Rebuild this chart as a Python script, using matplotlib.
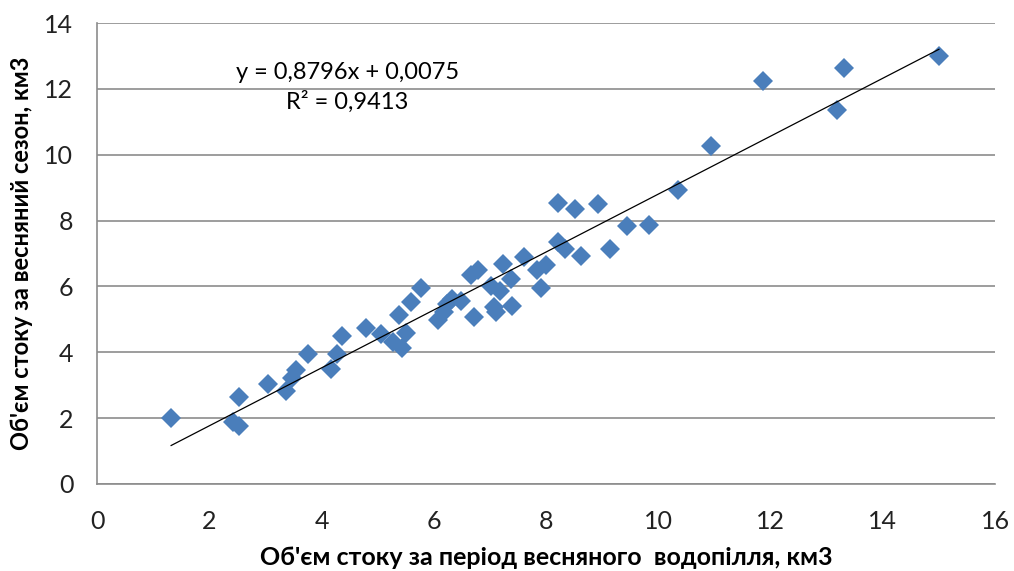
import numpy as np
import matplotlib
matplotlib.use('Agg')
from matplotlib import pyplot as plt

# spring flood volume (x) vs spring season volume (y), km3
flood_vol = [1.32, 2.42, 2.53, 2.53, 3.05, 3.37, 3.47, 3.55, 3.76, 4.17,
             4.28, 4.37, 4.80, 5.06, 5.27, 5.38, 5.44, 5.50, 5.60, 5.78,
             6.08, 6.19, 6.24, 6.33, 6.49, 6.67, 6.72, 6.79, 7.02, 7.08,
             7.11, 7.18, 7.24, 7.38, 7.40, 7.61, 7.84, 7.91, 8.00, 8.22,
             8.22, 8.34, 8.52, 8.63, 8.93, 9.14, 9.45, 9.84, 10.36, 10.94,
             11.87, 13.19, 13.30, 15.00]
season_vol = [2.00, 1.88, 1.76, 2.64, 3.04, 2.83, 3.22, 3.46, 3.95, 3.50,
              3.95, 4.50, 4.74, 4.56, 4.32, 5.14, 4.13, 4.59, 5.53, 5.96,
              4.98, 5.23, 5.47, 5.62, 5.56, 6.35, 5.08, 6.50, 6.02, 5.38,
              5.23, 5.87, 6.69, 6.23, 5.41, 6.90, 6.50, 5.96, 6.66, 7.36,
              8.54, 7.14, 8.36, 6.93, 8.51, 7.14, 7.84, 7.87, 8.94, 10.27,
              12.25, 11.37, 12.64, 13.00]

slope = 0.8796
intercept = 0.0075
eq_text = 'y = 0,8796x + 0,0075'
r2_text = 'R² = 0,9413'

plt.rcParams['font.family'] = ['Lato', 'DejaVu Sans']

fig = plt.figure(figsize=(10.14, 5.71), dpi=100)
ax = fig.add_axes([0.0957, 0.1524, 0.8856, 0.8073])

ax.plot(flood_vol, season_vol, linestyle='none', marker='D', markersize=10,
        color='#4a7ebb', markeredgewidth=0, zorder=3)

xs = np.array([min(flood_vol), max(flood_vol)])
ax.plot(xs, slope * xs + intercept, color='black', linewidth=0.9, zorder=4)

ax.text(4.47, 12.5, eq_text, fontsize=17, ha='center', va='center')
ax.text(4.45, 11.6, r2_text, fontsize=17, ha='center', va='center')

ax.set_xlim(0, 16)
ax.set_ylim(0, 14)
ax.set_xticks(range(0, 17, 2))
ax.set_yticks(range(0, 15, 2))
ax.tick_params(length=0, labelsize=18, colors='#222222')
ax.tick_params(axis='x', pad=19)
ax.tick_params(axis='y', pad=17)
ax.yaxis.grid(True, color='#8c8c8c', linewidth=1.2)
ax.set_axisbelow(True)
for s in ['top', 'right']:
    ax.spines[s].set_visible(False)
for s in ['left', 'bottom']:
    ax.spines[s].set_color('#8c8c8c')
    ax.spines[s].set_linewidth(1.2)

ax.set_xlabel("Об'єм стоку за період весняного  водопілля, км3", fontsize=18,
              fontweight='bold', labelpad=9)
ax.set_ylabel("Об'єм стоку за весняний сезон, км3", fontsize=17,
              fontweight='bold', labelpad=8)

fig.savefig('out.png', dpi=100)
